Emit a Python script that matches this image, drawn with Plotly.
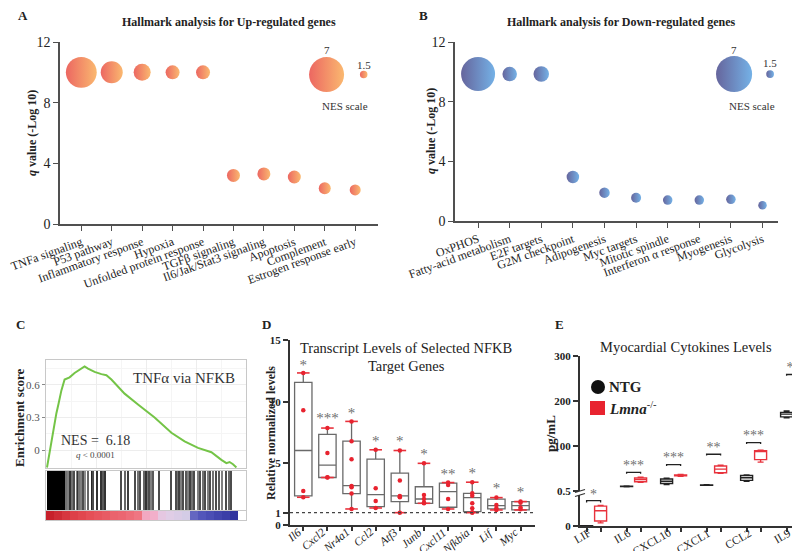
import plotly.graph_objects as go

W, H = 800, 551
FONT = "Liberation Serif"


def fx(p):
    return p / W


def fy(p):
    return 1 - p / H


# ---------------- data ----------------
# Panel A
up_terms = ["TNFa signaling", "P53 pathway", "Inflammatory response", "Hypoxia",
            "Unfolded protein response", "TGFβ signaling", "Il6/Jak/Stat3 signaling",
            "Apoptosis", "Complement", "Estrogen response early"]
up_q = [10.0, 10.0, 10.0, 10.0, 10.0, 3.2, 3.3, 3.1, 2.35, 2.25]
up_nes = [6.18, 4.4, 3.4, 2.8, 2.8, 2.6, 2.6, 2.6, 2.4, 2.2]

# Panel B
down_terms = ["OxPHOS", "Fatty-acid metabolism", "E2F targets", "G2M checkpoint",
              "Adipogenesis", "Myc targets", "Mitotic spindle", "Interferon α response",
              "Myogenesis", "Glycolysis"]
down_q = [9.85, 9.85, 9.85, 2.95, 1.9, 1.56, 1.4, 1.4, 1.45, 1.05]
down_nes = [6.8, 2.9, 3.1, 2.5, 2.1, 2.0, 1.9, 1.9, 1.9, 1.7]

nes_scale = [7, 1.5]
nes_scale_labels = ["7", "1.5"]

# Panel C (GSEA running enrichment score)
es_rank = [0.5, 1.8, 2.7, 4, 5.2, 6.3, 7.7, 9.3, 11.8, 14.3, 16.8, 19.3, 21, 24.3,
           27.7, 30.2, 32.7, 39.3, 46, 54.3, 62.7, 69.3, 76, 82.7, 87.7, 90.2, 91.8,
           93.5, 95.2]
es_score = [-0.16, -0.02, 0.07, 0.25, 0.34, 0.43, 0.55, 0.65, 0.67, 0.71, 0.74, 0.77,
            0.75, 0.72, 0.70, 0.69, 0.65, 0.52, 0.42, 0.30, 0.16, 0.08, 0.02, -0.02,
            -0.09, -0.12, -0.11, -0.13, -0.16]
hit_rank = [1, 1.5, 2, 2.5, 3, 3.5, 4, 4.5, 5.3, 5.8, 6.5, 7, 8, 8.7, 9.2,
            10, 10.8, 12, 13, 14.2, 15.3, 15.8, 16.7, 17.5, 18.3, 19.7, 20.8,
            22.8, 23.7, 25.3, 27.5, 28.3, 29.7,
            37.5, 39.5, 41.2, 44.7, 45.8, 47, 49.2, 50, 50.8, 51.7, 52.5, 53.3, 56.7,
            62.5, 65, 65.8, 66.7, 67.5, 68.3, 70, 70.8, 72, 72.8, 74.2, 75.8, 77, 78.3,
            79.7, 80.8, 82, 83.3, 85, 86.7, 88, 90, 91.3, 92.5]
hit_gray = [0, 0, 0, 0, 0, 0, 0, 0, 0, 0, 0, 0, 0, 0, 0,
            0.45, 0.5, 0.2, 0.45, 0.3, 0.5, 0.2, 0.45, 0.5, 0.3, 0.55, 0.4,
            0.15, 0.3, 0.2, 0.2, 0.35, 0.2,
            0.3, 0.4, 0.25, 0.3, 0.45, 0.3, 0.4, 0.2, 0.45, 0.3, 0.5, 0.35, 0.3,
            0.3, 0.3, 0.45, 0.25, 0.5, 0.3, 0.35, 0.5, 0.25, 0.45, 0.3, 0.5, 0.3, 0.45,
            0.3, 0.5, 0.3, 0.45, 0.3, 0.35, 0.5, 0.3, 0.4, 0.3]
ramp_pos = [2, 6, 10, 14, 18, 22, 26, 30, 34, 38, 42, 46, 50, 54, 58, 62, 66, 70,
            74, 78, 82, 86, 90, 94]
ramp_val = [1.0, 0.95, 0.9, 0.85, 0.82, 0.78, 0.75, 0.72, 0.68, 0.66, 0.62, 0.58,
            0.3, 0.26, 0.05, -0.02, -0.08, -0.15, -0.55, -0.62, -0.7, -0.78, -0.85,
            -0.95]

# Panel D
d_genes = ["Il6", "Cxcl2", "Nr4a1", "Ccl2", "Atf3", "Junb", "Cxcl11", "Nfkbia", "Lif", "Myc"]
d_low = [2.25, 3.85, 1.3, 1.38, 1.0, 1.76, 1.3, 1.0, 1.22, 1.22]
d_q1 = [2.36, 3.85, 2.55, 1.49, 1.9, 1.76, 1.44, 1.08, 1.3, 1.22]
d_med = [6.04, 4.85, 3.2, 2.47, 2.36, 2.11, 2.71, 2.22, 1.57, 1.57]
d_q3 = [11.57, 7.34, 6.8, 5.34, 4.2, 3.1, 3.39, 2.57, 2.09, 1.9]
d_high = [12.33, 7.86, 8.4, 6.1, 6.04, 5.0, 3.44, 3.47, 2.22, 1.9]
d_points = [
    [12.33, 9.3, 2.76, 2.25],
    [7.86, 5.83, 3.85, 3.87],
    [8.4, 6.8, 5.34, 3.17, 3.06, 2.55, 1.3],
    [6.1, 2.98, 1.95, 1.38],
    [6.04, 3.6, 2.36, 2.3, 2.25, 1.0],
    [5.0, 2.44, 2.11, 1.8, 1.76],
    [3.44, 3.25, 2.11, 1.3],
    [3.47, 2.57, 2.38, 1.76, 1.35, 1.03, 1.0],
    [2.22, 1.63, 1.35, 1.22],
    [1.9, 1.8, 1.41, 1.27],
]
d_sig = ["*", "***", "*", "*", "*", "*", "**", "*", "*", "*"]
d_sig_y = [12.9, 8.55, 8.95, 6.75, 6.7, 5.65, 4.05, 4.1, 2.9, 2.6]
d_reference = 1

# Panel E
e_cyt = ["LIF", "IL6", "CXCL10", "CXCL1", "CCL2", "IL9"]
ntg_low = [0.004, 10.0, 15.0, 13.0, 22.0, 163.0]
ntg_q1 = [0.004, 10.4, 17.0, 13.3, 24.0, 165.0]
ntg_med = [0.005, 10.8, 22.0, 13.6, 30.0, 171.0]
ntg_q3 = [0.006, 11.2, 27.0, 14.0, 35.0, 175.0]
ntg_high = [0.006, 11.5, 29.0, 14.2, 36.0, 178.0]
lmna_low = [0.05, 20.0, 33.0, 40.0, 64.5, 182.6]
lmna_q1 = [0.08, 21.0, 34.0, 41.0, 70.0, 191.0]
lmna_med = [0.245, 26.0, 35.0, 49.0, 88.0, 230.0]
lmna_q3 = [0.32, 29.6, 36.0, 56.0, 90.0, 247.0]
lmna_high = [0.33, 31.0, 37.0, 58.0, 91.0, 248.0]
e_bracket = [0.41, 42.0, 59.0, 82.0, 108.0, 259.0]
e_sig = ["*", "***", "***", "**", "***", "**"]

# ---------------- figure ----------------
fig = go.Figure()

ORANGE, RED = "#F89A32", "#E4261E"
LBLUE, NAVY = "#3990DC", "#242372"
BUB = 0.2  # sizeref: diameter px = NES / 0.2

# A  (gradient colour is drawn on the left, marker colour on the right)
fig.add_trace(go.Scatter(
    x=list(range(len(up_terms))), y=up_q, mode="markers", xaxis="x", yaxis="y",
    marker=dict(size=up_nes, sizemode="diameter", sizeref=BUB, color=RED,
                gradient=dict(type="horizontal", color=ORANGE), line=dict(width=0))))
fig.add_trace(go.Scatter(
    x=[8.06, 9.28], y=[9.85, 9.85], mode="markers", xaxis="x", yaxis="y",
    marker=dict(size=nes_scale, sizemode="diameter", sizeref=BUB, color=RED,
                gradient=dict(type="horizontal", color=ORANGE), line=dict(width=0))))
# B
fig.add_trace(go.Scatter(
    x=list(range(len(down_terms))), y=down_q, mode="markers", xaxis="x2", yaxis="y2",
    marker=dict(size=down_nes, sizemode="diameter", sizeref=BUB, color=NAVY,
                gradient=dict(type="horizontal", color=LBLUE), line=dict(width=0))))
fig.add_trace(go.Scatter(
    x=[8.1, 9.24], y=[9.85, 9.85], mode="markers", xaxis="x2", yaxis="y2",
    marker=dict(size=nes_scale, sizemode="diameter", sizeref=BUB * 0.97, color=NAVY,
                gradient=dict(type="horizontal", color=LBLUE), line=dict(width=0))))

# C
fig.add_trace(go.Scatter(x=es_rank, y=es_score, mode="lines", xaxis="x3", yaxis="y3",
                         line=dict(color="#74C447", width=2)))
hit_cols = ["rgb({0},{0},{0})".format(int(g * 255)) for g in hit_gray]
fig.add_trace(go.Bar(x=hit_rank, y=[1] * len(hit_rank), width=0.45, xaxis="x4", yaxis="y4",
                     marker=dict(color=hit_cols, line=dict(width=0))))
fig.add_trace(go.Heatmap(x=ramp_pos, y=[0.5], z=[ramp_val], xaxis="x5", yaxis="y5",
                         zmin=-1, zmax=1, showscale=False,
                         colorscale=[[0, "#2B2E9A"], [0.2, "#5558BC"], [0.4, "#CFCBE6"],
                                     [0.5, "#E2CDE6"], [0.62, "#F2B2CF"], [0.78, "#F07A86"],
                                     [0.9, "#E44B53"], [1, "#C7202B"]]))

# D
fig.add_trace(go.Box(x=list(range(len(d_genes))), lowerfence=d_low, q1=d_q1, median=d_med,
                     q3=d_q3, upperfence=d_high, xaxis="x6", yaxis="y6", width=0.72,
                     whiskerwidth=0, fillcolor="white",
                     line=dict(color="#6A6A6A", width=1.3), boxpoints=False))
fig.add_trace(go.Scatter(x=list(range(len(d_genes))) * 2, y=d_high + d_low, mode="markers",
                         xaxis="x6", yaxis="y6",
                         marker=dict(symbol="line-ew", size=9,
                                     line=dict(color="#E8323C", width=1.6))))
px_, py_ = [], []
for i, pts in enumerate(d_points):
    px_ += [i] * len(pts)
    py_ += pts
fig.add_trace(go.Scatter(x=px_, y=py_, mode="markers", xaxis="x6", yaxis="y6",
                         marker=dict(color="#E8232F", size=4.5)))
fig.add_trace(go.Scatter(x=list(range(len(d_genes))), y=d_sig_y, mode="text", text=d_sig,
                         xaxis="x6", yaxis="y6", cliponaxis=False,
                         textfont=dict(family=FONT, size=15, color="#707070")))

# E
OFF = 0.175
n_e = len(e_cyt)
fig.add_trace(go.Box(x=[0 - OFF], lowerfence=ntg_low[:1], q1=ntg_q1[:1], median=ntg_med[:1],
                     q3=ntg_q3[:1], upperfence=ntg_high[:1], xaxis="x7", yaxis="y7", width=0.3,
                     whiskerwidth=0.5, fillcolor="white", line=dict(color="#222222", width=1.4)))
fig.add_trace(go.Box(x=[0 + OFF], lowerfence=lmna_low[:1], q1=lmna_q1[:1], median=lmna_med[:1],
                     q3=lmna_q3[:1], upperfence=lmna_high[:1], xaxis="x7", yaxis="y7", width=0.3,
                     whiskerwidth=0.5, fillcolor="white", line=dict(color="#E8323C", width=1.4)))
fig.add_trace(go.Box(x=[i - OFF for i in range(1, n_e)], lowerfence=ntg_low[1:], q1=ntg_q1[1:],
                     median=ntg_med[1:], q3=ntg_q3[1:], upperfence=ntg_high[1:],
                     xaxis="x7", yaxis="y8", width=0.3, whiskerwidth=0.5, fillcolor="white",
                     line=dict(color="#222222", width=1.4)))
fig.add_trace(go.Box(x=[i + OFF for i in range(1, n_e)], lowerfence=lmna_low[1:], q1=lmna_q1[1:],
                     median=lmna_med[1:], q3=lmna_q3[1:], upperfence=lmna_high[1:],
                     xaxis="x7", yaxis="y8", width=0.3, whiskerwidth=0.5, fillcolor="white",
                     line=dict(color="#E8323C", width=1.4)))
for i in range(n_e):
    b = e_bracket[i]
    ya = "y7" if i == 0 else "y8"
    tick = 0.03 if i == 0 else 3.0
    star_off = 0.09 if i == 0 else 13.0
    fig.add_trace(go.Scatter(x=[i - OFF, i - OFF, i + OFF, i + OFF], y=[b - tick, b, b, b - tick],
                             mode="lines", xaxis="x7", yaxis=ya, cliponaxis=False,
                             line=dict(color="#222222", width=1.3)))
    fig.add_trace(go.Scatter(x=[i], y=[b + star_off], mode="text", text=[e_sig[i]],
                             xaxis="x7", yaxis=ya, cliponaxis=False,
                             textfont=dict(family=FONT, size=14, color="#707070")))

# ---------------- axes ----------------
base_tick = dict(family=FONT, color="#222222")
axline = dict(showline=True, linecolor="#505050", linewidth=1.5, ticks="outside",
              tickcolor="#505050", showgrid=False, zeroline=False, automargin=False)

layout = dict(
    width=W, height=H, margin=dict(l=0, r=0, t=0, b=0, pad=0, autoexpand=False),
    paper_bgcolor="white", plot_bgcolor="white", showlegend=False,
    font=dict(family=FONT, color="#222222"),
)

layout["xaxis"] = dict(domain=[fx(52), fx(370)], range=[-0.7, 9.75], anchor="y",
                       tickvals=list(range(10)), ticktext=up_terms, tickangle=-20, ticklen=5,
                       tickfont=dict(size=12, **base_tick), **axline)
layout["yaxis"] = dict(domain=[fy(216), fy(34)], range=[0, 12], anchor="x",
                       tickvals=[0, 4, 8, 12], ticklen=5,
                       tickfont=dict(size=14, **base_tick), **axline)
layout["xaxis2"] = dict(domain=[fx(447), fx(770)], range=[-0.73, 9.49], anchor="y2",
                        tickvals=list(range(10)), ticktext=down_terms, tickangle=-20, ticklen=5,
                        tickfont=dict(size=12, **base_tick), **axline)
layout["yaxis2"] = dict(domain=[fy(213), fy(34)], range=[0, 12], anchor="x2",
                        tickvals=[0, 4, 8, 12], ticklen=5,
                        tickfont=dict(size=14, **base_tick), **axline)

gsea_line = dict(showline=True, mirror=True, linecolor="#C8C8C8", linewidth=1, zeroline=False,
                 automargin=False)
layout["xaxis3"] = dict(domain=[fx(38), fx(238)], range=[0, 100], anchor="y3",
                        showticklabels=False, ticks="", showgrid=True, gridcolor="#EDEDED",
                        dtick=25, minor=dict(dtick=12.5, showgrid=True, gridcolor="#F5F5F5"),
                        **gsea_line)
layout["yaxis3"] = dict(domain=[fy(460), fy(352)], range=[-0.165, 0.83], anchor="x3",
                        tickvals=[0, 0.3, 0.6], ticktext=["0", "0.3", "0.6"], ticks="outside",
                        ticklen=3, tickcolor="#888888", showgrid=True, gridcolor="#EDEDED",
                        minor=dict(tickvals=[0.15, 0.45, 0.75], showgrid=True, gridcolor="#F5F5F5"),
                        tickfont=dict(family=FONT, size=11, color="#555555"), **gsea_line)
layout["xaxis4"] = dict(domain=[fx(38), fx(238)], range=[0, 100], anchor="y4",
                        showticklabels=False, ticks="", showgrid=False, **gsea_line)
layout["yaxis4"] = dict(domain=[fy(502), fy(463)], range=[0, 1], anchor="x4",
                        showticklabels=False, ticks="", showgrid=False, **gsea_line)
layout["xaxis5"] = dict(domain=[fx(38), fx(238)], range=[0, 100], anchor="y5",
                        showticklabels=False, ticks="", showgrid=False, **gsea_line)
layout["yaxis5"] = dict(domain=[fy(512), fy(503)], range=[0, 1], anchor="x5",
                        showticklabels=False, ticks="", showgrid=False, **gsea_line)

darkline = dict(showline=True, linecolor="#333333", linewidth=2, ticks="outside",
                tickcolor="#333333", tickwidth=1.5, showgrid=False, zeroline=False,
                automargin=False)
layout["xaxis6"] = dict(domain=[fx(282), fx(527)], range=[-0.55, 9.6], anchor="y6",
                        tickvals=list(range(10)), showticklabels=False, ticklen=4, **darkline)
layout["yaxis6"] = dict(domain=[fy(517), fy(332)], range=[0, 15], anchor="x6",
                        tickvals=[0, 1, 5, 10, 15], ticklen=5,
                        tickfont=dict(size=11, weight="bold", **base_tick), **darkline)

layout["xaxis7"] = dict(domain=[fx(572), fx(800)], range=[-0.34, 5.36], anchor="y7",
                        tickvals=[i + s for i in range(n_e) for s in (-OFF, OFF)],
                        showticklabels=False, ticklen=4, **darkline)
layout["yaxis7"] = dict(domain=[fy(518), fy(487)], range=[0, 0.5], anchor="x7",
                        tickvals=[0], ticklen=5,
                        tickfont=dict(size=11, weight="bold", **base_tick), **darkline)
layout["yaxis8"] = dict(domain=[fy(483), fy(348)], range=[0.5, 300], anchor="x7",
                        tickvals=[0.5, 100, 200, 300], ticktext=["0.5", "100", "200", "300"],
                        ticklen=5, tickfont=dict(size=11, weight="bold", **base_tick), **darkline)

fig.update_layout(**layout)

# ---------------- annotations & shapes ----------------
ann = []


def A(px, py, text, size, xanchor="center", angle=0, color="#222222"):
    ann.append(dict(x=fx(px), y=fy(py), xref="paper", yref="paper", text=text, showarrow=False,
                    xanchor=xanchor, yanchor="middle", textangle=angle,
                    font=dict(family=FONT, size=size, color=color)))


A(15, 8, "<b>A</b>", 13)
A(415, 8, "<b>B</b>", 13)
A(12, 316, "<b>C</b>", 13)
A(258, 316, "<b>D</b>", 13)
A(551, 316, "<b>E</b>", 13)
A(221, 14, "<b>Hallmark analysis for Up-regulated genes</b>", 12)
A(613, 14, "<b>Hallmark analysis for Down-regulated genes</b>", 12)
A(398, 340, "Transcript Levels of Selected NFKB", 14.5)
A(398, 358, "Target Genes", 14.5)
A(678, 339, "Myocardial Cytokines Levels", 14.5)
A(24, 125, "<b><i>q</i> value (-Log 10)</b>", 12, angle=-90)
A(423, 123, "<b><i>q</i> value (-Log 10)</b>", 12, angle=-90)
A(11, 410, "<b>Enrichment score</b>", 13, angle=-90)
A(263, 425, "<b>Relative normalized levels</b>", 12, angle=-90)
A(542, 426, "<b>pg/mL</b>", 13, angle=-90)
for xa, ya, xs, ys, yl in [("x", "y", [8.06, 9.28], [11.45, 10.5], 7.8),
                           ("x2", "y2", [8.1, 9.24], [11.45, 10.6], 7.7)]:
    for xx, yy, t in zip(xs, ys, nes_scale_labels):
        ann.append(dict(x=xx, y=yy, xref=xa, yref=ya, text=t, showarrow=False,
                        font=dict(family=FONT, size=11, color="#333333")))
    ann.append(dict(x=sum(xs) / 2, y=yl, xref=xa, yref=ya, text="NES scale", showarrow=False,
                    font=dict(family=FONT, size=11, color="#333333")))
A(176, 370, "TNFα via NFKB", 15, color="#333333")
A(87, 432, "NES =  6.18", 14, color="#333333")
A(87, 447, "<i>q</i> < 0.0001", 9, color="#444444")
A(599, 379, "<b>NTG</b>", 15, xanchor="left")
A(599, 400, "<b><i>Lmna</i></b><sup>-/-</sup>", 15, xanchor="left")

# rotated category labels for D and E (placed just under each tick)
for i, g in enumerate(d_genes):
    ann.append(dict(x=i, y=0, xref="x6", yref="y6", text="<i>%s</i>" % g, showarrow=False,
                    xanchor="right", yanchor="top", textangle=-40, xshift=3, yshift=2,
                    font=dict(family=FONT, size=11.5, color="#222222")))
for i, c in enumerate(e_cyt):
    ann.append(dict(x=i, y=0, xref="x7", yref="y7", text=c, showarrow=False,
                    xanchor="right", yanchor="top", textangle=-30, xshift=2, yshift=2,
                    font=dict(family=FONT, size=11.5, color="#222222")))

shapes = [
    dict(type="line", xref="x6 domain", x0=0, x1=1, yref="y6", y0=d_reference, y1=d_reference,
         line=dict(color="#444444", width=1.2, dash="dot")),
    dict(type="circle", xref="paper", yref="paper", x0=fx(583), x1=fx(597), y0=fy(386), y1=fy(372),
         fillcolor="#111111", line=dict(width=0)),
    dict(type="rect", xref="paper", yref="paper", x0=fx(582), x1=fx(597), y0=fy(407), y1=fy(393),
         fillcolor="#E8232F", line=dict(width=0)),
    dict(type="line", xref="paper", yref="paper", x0=fx(567), x1=fx(577), y0=fy(484.5), y1=fy(481.5),
         line=dict(color="#333333", width=1.3)),
    dict(type="line", xref="paper", yref="paper", x0=fx(567), x1=fx(577), y0=fy(488.5), y1=fy(485.5),
         line=dict(color="#333333", width=1.3)),
]

fig.update_layout(annotations=ann, shapes=shapes)

fig.write_html("out.html")
